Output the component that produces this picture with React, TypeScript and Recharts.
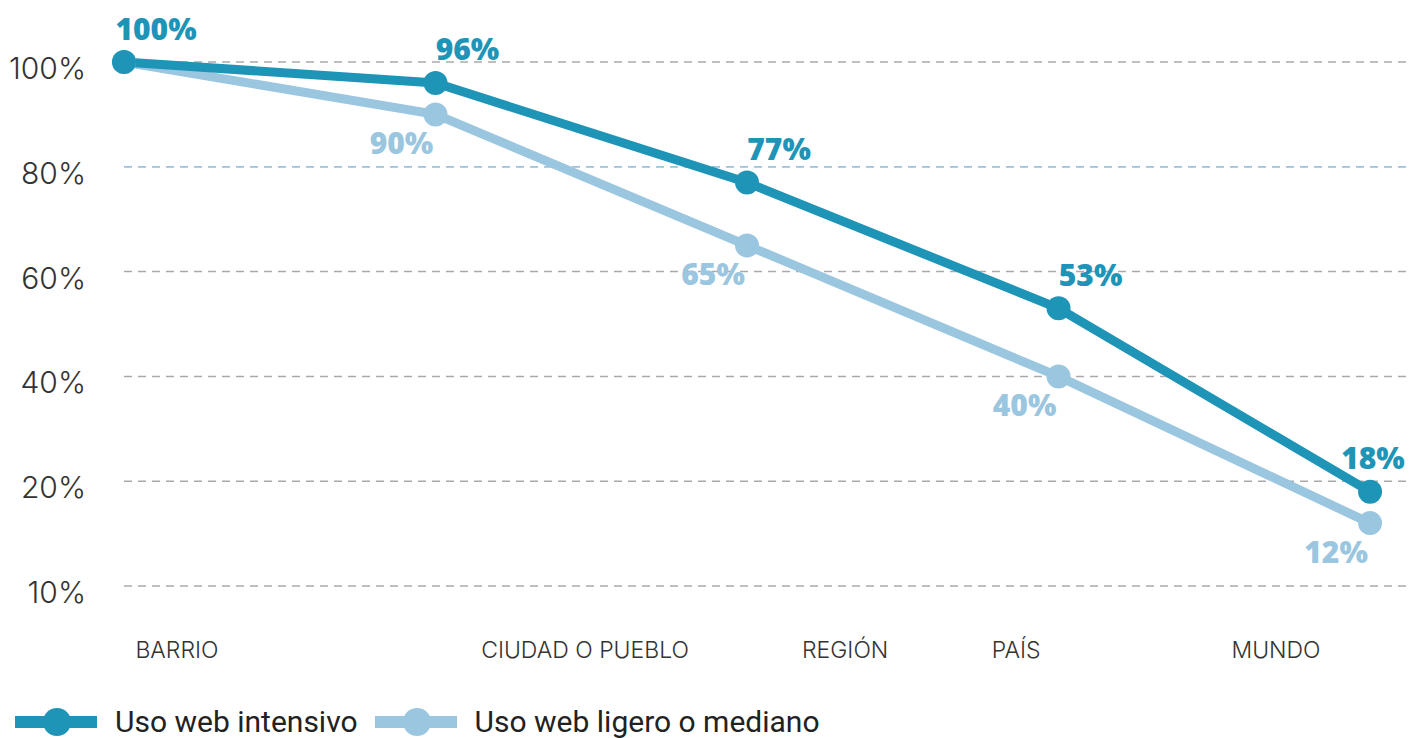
import React from "react";
import { LineChart, Line, XAxis, YAxis, CartesianGrid, ReferenceLine, LabelList } from "recharts";

const categories = ["BARRIO", "CIUDAD O PUEBLO", "REGIÓN", "PAÍS", "MUNDO"];
// where the category captions sit along the x scale (they are not under the points)
const categoryTickPositions = [0.17, 1.48, 2.315, 2.864, 3.698];
const intensivo = [100, 96, 77, 53, 18];
const ligero = [100, 90, 65, 40, 12];
const yTicks = [0, 20, 40, 60, 80, 100];
const yTickLabels = ["10%", "20%", "40%", "60%", "80%", "100%"];
const seriesNames = ["Uso web intensivo", "Uso web ligero o mediano"];

const DARK = "#1e94b7";
const LIGHT = "#9bc6e0";
const W = 1409;
const H = 738;
const FONT = "Roboto, 'Noto Sans', sans-serif";
const AXIS_FONT = "Inter, Roboto, sans-serif";
const BOLD_FONT = "'Open Sans', 'Noto Sans', sans-serif";

const data = intensivo.map((v, i) => ({ x: i, intensivo: v, ligero: ligero[i] }));

const darkLabel = (props: any) => {
  const { x, y, value } = props;
  const cx = Math.min(x + 32, W - 36);
  return (
    <text x={cx} y={y - 34} textAnchor="middle" dominantBaseline="central" fill={DARK} fontSize={30} fontWeight={800} fontFamily={BOLD_FONT}>
      {value}%
    </text>
  );
};

const lightLabel = (props: any) => {
  const { x, y, value, index } = props;
  if (index === 0) return null;
  return (
    <text x={x - 34} y={y + 28} textAnchor="middle" dominantBaseline="central" fill={LIGHT} fontSize={30} fontWeight={800} fontFamily={BOLD_FONT}>
      {value}%
    </text>
  );
};

const YTick = (props: any) => {
  const { x, y, payload } = props;
  const label = yTickLabels[yTicks.indexOf(payload.value)];
  return (
    <text x={x} y={y + 6} textAnchor="end" dominantBaseline="central" fill="#333" fontSize={30} fontWeight={300} fontFamily={AXIS_FONT}>
      {label}
    </text>
  );
};

const XTick = (props: any) => {
  const { x, y, payload } = props;
  const i = categoryTickPositions.indexOf(payload.value);
  return (
    <text x={x} y={y} textAnchor="middle" dominantBaseline="central" fill="#333" fontSize={23} fontWeight={300} fontFamily={AXIS_FONT}>
      {categories[i]}
    </text>
  );
};

function LegendIcon({ color }: { color: string }) {
  return (
    <svg width={82} height={30} style={{ display: "block" }}>
      <line x1={0} y1={15} x2={82} y2={15} stroke={color} strokeWidth={12} />
      <circle cx={42} cy={15} r={14} fill={color} />
    </svg>
  );
}

export default function App() {
  const colors = [DARK, LIGHT];
  return (
    <div style={{ position: "absolute", left: 0, top: 0, width: W, height: H, overflow: "hidden", background: "#fff", fontFamily: FONT }}>
      <LineChart width={W} height={H} data={data} margin={{ top: 62, right: 0, bottom: 62, left: 24 }}>
        <CartesianGrid vertical={false} stroke="#aaaaaa" strokeDasharray="8 6" strokeWidth={1.5} />
        <ReferenceLine y={80} stroke={LIGHT} strokeDasharray="8 6" strokeWidth={1.5} />
        <XAxis
          dataKey="x"
          type="number"
          domain={[0, 4.125]}
          ticks={categoryTickPositions}
          interval={0}
          axisLine={false}
          tickLine={false}
          tickSize={0}
          tickMargin={64}
          height={90}
          tick={<XTick />}
        />
        <YAxis
          type="number"
          domain={[0, 100]}
          ticks={yTicks}
          interval={0}
          width={100}
          axisLine={false}
          tickLine={false}
          tickSize={0}
          tickMargin={38}
          tick={<YTick />}
        />
        <Line
          dataKey="ligero"
          stroke={LIGHT}
          strokeWidth={9}
          dot={{ r: 12, fill: LIGHT, stroke: LIGHT, strokeWidth: 0 }}
          activeDot={false}
          isAnimationActive={false}
        >
          <LabelList dataKey="ligero" content={lightLabel} />
        </Line>
        <Line
          dataKey="intensivo"
          stroke={DARK}
          strokeWidth={9}
          dot={{ r: 12, fill: DARK, stroke: DARK, strokeWidth: 0 }}
          activeDot={false}
          isAnimationActive={false}
        >
          <LabelList dataKey="intensivo" content={darkLabel} />
        </Line>
      </LineChart>
      <div style={{ position: "absolute", left: 15, top: 702, height: 40, display: "flex", alignItems: "center" }}>
        {seriesNames.map((name, i) => (
          <div key={name} style={{ display: "flex", alignItems: "center", marginRight: 17 }}>
            <LegendIcon color={colors[i]} />
            <span style={{ marginLeft: 18, fontSize: 30, color: "#222", lineHeight: "40px" }}>{name}</span>
          </div>
        ))}
      </div>
    </div>
  );
}
